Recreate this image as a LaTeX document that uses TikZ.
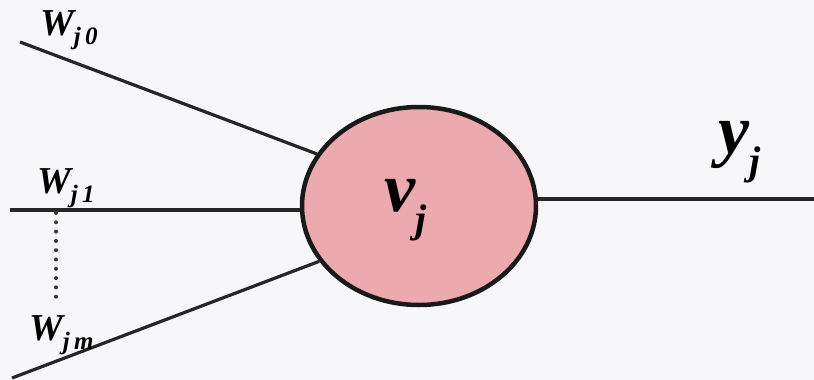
\documentclass[tikz,border=0pt]{standalone}
\usepackage{fontspec}
\setmainfont{Liberation Serif}
\usetikzlibrary{shapes.geometric}
\definecolor{cellpink}{RGB}{236,170,175}
\definecolor{paper}{RGB}{247,247,250}
\newcommand{\wlab}[2]{\fontsize{38}{38}\selectfont\bfseries\itshape W\raisebox{-0.26em}{\fontsize{25}{25}\selectfont #1\,#2}}
\tikzset{
  wire/.style={line width=3.2pt, draw=black!85},
  cell/.style={ellipse, draw=black!90, line width=4.5pt, fill=cellpink, minimum width=234pt, minimum height=198pt, inner sep=0pt},
  lbl/.style={anchor=base west, inner sep=0pt},
  dots/.style={line width=4pt, line cap=round, dash pattern=on 0pt off 9.3pt, draw=black!80}
}
\begin{document}
\begin{tikzpicture}[x=1pt,y=-1pt]
\fill[paper] (0,0) rectangle (814,380);
\useasboundingbox (0,0) rectangle (814,380);
\node[cell] (n) at (419,206) {};
\coordinate (a0) at (20,42);
\coordinate (a1) at (10,210);
\coordinate (am) at (12,378);
\coordinate (yend) at (814,199);
\coordinate (d1) at (56,213);
\coordinate (d2) at (56,305);
\draw[wire] (a0) -- (n.153);
\draw[wire] (a1) -- (a1 -| n.west);
\draw[wire] (am) -- (n.209);
\draw[wire] (yend -| n.east) -- (yend);
\draw[dots] (d1) -- (d2);
\node[lbl] (w0) at (40,35) {\wlab{j}{0}};
\node[lbl] (w1) at (37,193) {\wlab{j}{1}};
\node[lbl] (wm) at (29,340) {\wlab{j}{m}};
\node[lbl] (v) at (384,211) {\fontsize{70}{70}\selectfont\bfseries\itshape v\raisebox{-0.3em}{\fontsize{40}{40}\selectfont j}};
\node[lbl] (y) at (718,153) {\fontsize{70}{70}\selectfont\bfseries\itshape y\raisebox{-0.3em}{\fontsize{40}{40}\selectfont j}};
\end{tikzpicture}
\end{document}
